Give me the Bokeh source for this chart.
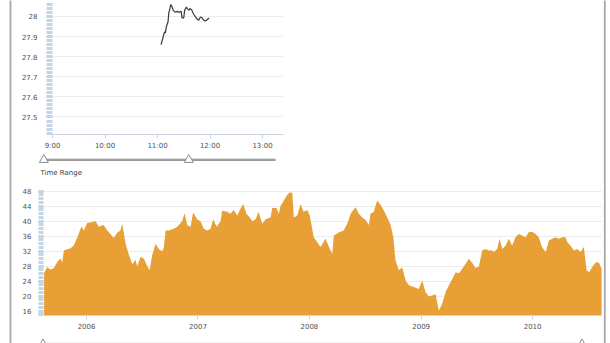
import pandas as pd
from bokeh.plotting import figure
from bokeh.layouts import column, row
from bokeh.models import (Range1d, LinearAxis, FixedTicker, DatetimeTickFormatter,
                          NumeralTickFormatter, Grid, ColumnDataSource)
from bokeh.embed import file_html
from bokeh.resources import INLINE
from bokeh.core.properties import value

# ---------------- data: intraday (top chart) ----------------
intraday_times = ["11:04", "11:06", "11:08", "11:09", "11:10", "11:12", "11:13", "11:14",
                  "11:15", "11:16", "11:18", "11:20", "11:23", "11:25", "11:27", "11:28",
                  "11:30", "11:31", "11:33", "11:34", "11:36", "11:37", "11:39", "11:41",
                  "11:43", "11:45", "11:47", "11:49", "11:51", "11:52", "11:54", "11:56",
                  "11:58", "11:59"]
intraday_prices = [27.860, 27.890, 27.923, 27.918, 27.947, 27.972, 28.021, 28.033,
                   28.059, 28.054, 28.030, 28.021, 28.025, 28.020, 28.026, 27.993,
                   27.993, 28.030, 28.046, 28.039, 28.030, 28.039, 28.033, 28.013,
                   28.000, 27.988, 27.980, 27.997, 27.993, 27.985, 27.977, 27.980,
                   27.988, 27.993]
hour_ticks = [9, 10, 11, 12, 13]
hour_labels = ["9:00", "10:00", "11:00", "12:00", "13:00"]
top_y_ticks = [27.5, 27.6, 27.7, 27.8, 27.9, 28.0]

# ---------------- data: daily history (bottom chart) ----------------
daily_dates = [
    "2005-08-15", "2005-08-25", "2005-09-05", "2005-09-16", "2005-09-27", "2005-10-08",
    "2005-10-13", "2005-10-19", "2005-10-30", "2005-11-10", "2005-11-20", "2005-12-02",
    "2005-12-12", "2005-12-16", "2005-12-23", "2006-01-03", "2006-01-20", "2006-01-31",
    "2006-02-10", "2006-02-26", "2006-03-10", "2006-03-21", "2006-03-31", "2006-04-12",
    "2006-04-22", "2006-04-28", "2006-05-09", "2006-05-20", "2006-05-31", "2006-06-10",
    "2006-06-16", "2006-06-27", "2006-07-08", "2006-07-19", "2006-07-27", "2006-08-04",
    "2006-08-15", "2006-08-26", "2006-09-06", "2006-09-11", "2006-09-17", "2006-09-28",
    "2006-10-14", "2006-10-25", "2006-11-10", "2006-11-18", "2006-11-27", "2006-12-08",
    "2006-12-16", "2006-12-29", "2007-01-09", "2007-01-20", "2007-01-31", "2007-02-11",
    "2007-02-20", "2007-03-03", "2007-03-16", "2007-03-21", "2007-04-07", "2007-04-17",
    "2007-04-28", "2007-05-10", "2007-05-18", "2007-05-29", "2007-06-09", "2007-06-20",
    "2007-06-28", "2007-07-09", "2007-07-18", "2007-07-31", "2007-08-10", "2007-08-27",
    "2007-09-01", "2007-09-15", "2007-09-23", "2007-09-28", "2007-10-09", "2007-10-20",
    "2007-10-29", "2007-11-06", "2007-11-11", "2007-11-22", "2007-12-03", "2007-12-13",
    "2007-12-25", "2008-01-02", "2008-01-08", "2008-01-15", "2008-01-26", "2008-02-06",
    "2008-02-23", "2008-03-05", "2008-03-16", "2008-03-21", "2008-04-06", "2008-04-22",
    "2008-05-04", "2008-05-15", "2008-05-31", "2008-06-11", "2008-06-22", "2008-07-03",
    "2008-07-14", "2008-07-19", "2008-07-30", "2008-08-10", "2008-08-18", "2008-08-31",
    "2008-09-12", "2008-09-23", "2008-10-02", "2008-10-09", "2008-10-20", "2008-10-31",
    "2008-11-11", "2008-11-22", "2008-12-03", "2008-12-13", "2008-12-24", "2009-01-05",
    "2009-01-15", "2009-01-26", "2009-02-06", "2009-02-17", "2009-02-28", "2009-03-11",
    "2009-03-22", "2009-04-02", "2009-04-13", "2009-04-24", "2009-05-05", "2009-05-16",
    "2009-05-26", "2009-06-06", "2009-06-17", "2009-06-28", "2009-07-09", "2009-07-20",
    "2009-07-31", "2009-08-11", "2009-08-22", "2009-08-27", "2009-09-07", "2009-09-15",
    "2009-09-24", "2009-10-05", "2009-10-15", "2009-10-26", "2009-11-06", "2009-11-17",
    "2009-11-28", "2009-12-09", "2009-12-20", "2009-12-31", "2010-01-11", "2010-01-21",
    "2010-02-01", "2010-02-13", "2010-02-23", "2010-03-06", "2010-03-17", "2010-03-28",
    "2010-04-08", "2010-04-19", "2010-04-25", "2010-05-05", "2010-05-16", "2010-05-27",
    "2010-06-07", "2010-06-18", "2010-06-27", "2010-07-05", "2010-07-15", "2010-07-26",
    "2010-08-06", "2010-08-15"]
daily_prices = [
    26.2, 27.7, 27.1, 27.5, 29.1, 30.1,
    29.0, 32.2, 32.5, 32.8, 33.5, 35.7,
    37.9, 38.5, 37.5, 39.5, 39.8, 40.0,
    38.5, 39.0, 37.5, 36.5, 35.5, 37.0,
    37.5, 39.3, 34.0, 31.0, 28.5, 29.7,
    28.0, 30.5, 30.0, 28.0, 27.0, 31.0,
    34.0, 32.5, 32.0, 33.0, 37.5, 37.5,
    38.0, 38.5, 40.0, 42.1, 39.0, 38.5,
    42.4, 40.5, 40.0, 38.0, 37.5, 38.0,
    40.5, 38.5, 40.0, 42.8, 42.5, 42.0,
    43.0, 41.5, 43.0, 44.6, 42.0, 41.0,
    40.0, 40.5, 42.5, 39.3, 40.5, 41.0,
    43.5, 43.5, 42.0, 44.0, 45.5, 47.0,
    47.7, 47.5, 41.0, 41.5, 44.5, 42.5,
    43.0, 41.5, 39.0, 35.7, 34.5, 33.1,
    35.3, 33.1, 31.3, 36.2, 37.0, 37.5,
    39.3, 42.0, 43.7, 42.0, 41.0, 40.3,
    39.0, 42.0, 42.5, 45.5, 44.7, 43.0,
    41.0, 39.0, 35.7, 29.5, 26.9, 27.7,
    24.2, 22.9, 22.6, 22.3, 21.9, 24.2,
    21.1, 19.9, 20.2, 20.6, 16.2, 18.0,
    21.1, 22.9, 24.6, 26.4, 26.1, 27.4,
    28.6, 30.0, 28.9, 27.5, 27.9, 32.2,
    32.6, 32.2, 32.2, 31.8, 32.6, 35.3,
    32.6, 33.5, 35.3, 33.5, 35.7, 36.6,
    36.2, 35.7, 37.1, 37.1, 36.6, 35.7,
    33.1, 31.7, 34.8, 35.3, 35.7, 35.3,
    35.7, 35.7, 34.4, 33.5, 32.2, 32.6,
    31.8, 33.1, 26.9, 26.4, 27.7, 29.0,
    29.0, 27.3]
year_ticks = [2006, 2007, 2008, 2009, 2010]
bottom_y_ticks = [16, 20, 24, 28, 32, 36, 40, 44, 48]

# ---------------- styles ----------------
FONT = "DejaVu Sans"
LABEL_COLOR = "#505050"
BAND = "#c3d5e7"
GRID = "#ececec"
AXIS = "#c8d4e0"
ORANGE = "#e8a036"
BORDER = "#a8a8a8"
FS = "7px"
PAGE_H = 343


def style_label_axis(ax):
    ax.major_label_text_font = FONT
    ax.major_label_text_font_size = FS
    ax.major_label_text_color = LABEL_COLOR


def band_y_axis(ticker, band_len, standoff, fmt=None):
    ax = LinearAxis(ticker=ticker)
    if fmt is not None:
        ax.formatter = fmt
    ax.axis_line_color = None
    ax.major_tick_in = 0
    ax.major_tick_out = band_len
    ax.minor_tick_in = 0
    ax.minor_tick_out = band_len
    ax.major_tick_line_color = BAND
    ax.minor_tick_line_color = BAND
    ax.major_tick_line_width = 3
    ax.minor_tick_line_width = 3
    ax.major_label_standoff = standoff
    style_label_axis(ax)
    return ax


def deco_fig(width, height, x0, border_x=None):
    p = figure(width=width, height=height, x_range=Range1d(x0, x0 + width),
               y_range=Range1d(height, 0), x_axis_type=None, y_axis_type=None,
               output_backend="svg", toolbar_location=None, min_border=0,
               outline_line_color=None, title=None, frame_align=False)
    p.background_fill_color = "white"
    p.border_fill_color = "white"
    if border_x is not None:
        p.quad(left=[border_x - 0.9], right=[border_x + 0.9],
               bottom=[-50], top=[height + 50], fill_color=BORDER, line_color=None)
    return p


def slider(p, y, x_start, x_end, handles):
    p.segment(x0=[x_start], y0=[y], x1=[x_end], y1=[y], line_color="#9a9a9a", line_width=2.2)
    p.segment(x0=[x_start], y0=[y - 1.2], x1=[x_end], y1=[y - 1.2], line_color="#dcdcdc", line_width=0.8)
    p.scatter(x=handles, y=[y] * len(handles), marker="triangle", size=9,
              fill_color="white", line_color="#8c8c8c", line_width=1)


# ---------------- top chart ----------------
hours = [int(t.split(":")[0]) + int(t.split(":")[1]) / 60 for t in intraday_times]
f1 = figure(width=590, height=152, x_range=Range1d(9.0, 13.4), y_range=Range1d(27.413, 28.079),
            x_axis_type=None, y_axis_type=None, output_backend="svg", toolbar_location=None,
            title=None, min_border_left=40, min_border_right=319, min_border_top=0,
            min_border_bottom=17, outline_line_color=None, frame_align=False)
top_minor = [round(27.40 + 0.02 * i, 2) for i in range(35)]
f1_yticker = FixedTicker(ticks=top_y_ticks, minor_ticks=top_minor)
f1.add_layout(band_y_axis(f1_yticker, 6, 9, NumeralTickFormatter(format="0.[0]")), "left")
f1_x = LinearAxis(ticker=FixedTicker(ticks=hour_ticks),
                  major_label_overrides=dict(zip(hour_ticks, hour_labels)))
f1_x.axis_line_color = AXIS
f1_x.major_tick_line_color = AXIS
f1_x.major_tick_in = 0
f1_x.major_tick_out = 4
f1_x.minor_tick_line_color = None
f1_x.major_label_standoff = 3
style_label_axis(f1_x)
f1.add_layout(f1_x, "below")
f1.add_layout(Grid(dimension=1, ticker=f1_yticker, grid_line_color=GRID))
f1.line(x=hours, y=intraday_prices, line_color="#3a3a3a", line_width=1.2)

# ---------------- slider 1 ----------------
s1 = deco_fig(590, 33, 12)
slider(s1, 7.3, 42, 275, [43.3, 188.3])
s1.text(x=[40], y=[20.3], text=["Time Range"], text_font=value(FONT), text_font_size=FS,
        text_baseline="middle", text_align="left", text_color="#444444")

# ---------------- bottom chart ----------------
dates = pd.to_datetime(daily_dates)
src = ColumnDataSource(dict(date=dates, price=daily_prices))
f2 = figure(width=590, height=148,
            x_range=Range1d(pd.Timestamp("2005-08-13"), pd.Timestamp("2010-08-18")),
            y_range=Range1d(14.85, 48.45), x_axis_type=None, y_axis_type=None,
            output_backend="svg", toolbar_location=None, title=None,
            min_border_left=31, min_border_right=0, min_border_top=4, min_border_bottom=18,
            outline_line_color=None, frame_align=False)
f2_yticker = FixedTicker(ticks=bottom_y_ticks, minor_ticks=list(range(15, 49)))
f2.add_layout(band_y_axis(f2_yticker, 5, 7), "left")
year_ms = [pd.Timestamp(f"{y}-01-01").value / 1e6 for y in year_ticks]
f2_x = LinearAxis(ticker=FixedTicker(ticks=year_ms),
                  formatter=DatetimeTickFormatter(years="%Y", months="%Y", days="%Y",
                                                  hours="%Y", hourmin="%Y", minutes="%Y",
                                                  minsec="%Y", seconds="%Y",
                                                  milliseconds="%Y", microseconds="%Y"))
f2_x.axis_line_color = AXIS
f2_x.major_tick_line_color = AXIS
f2_x.major_tick_in = 0
f2_x.major_tick_out = 4
f2_x.minor_tick_line_color = None
f2_x.major_label_standoff = 3
style_label_axis(f2_x)
f2.add_layout(f2_x, "below")
f2.add_layout(Grid(dimension=1, ticker=f2_yticker, grid_line_color=GRID))
f2.varea(x="date", y1=0, y2="price", source=src, fill_color=ORANGE)

# ---------------- slider 2 ----------------
s2 = deco_fig(590, 10, 12)
slider(s2, 8.7, 42, 582, [42.5, 581.5])

for f in (f1, f2):
    f.background_fill_color = "white"
    f.border_fill_color = "white"

layout = row(
    deco_fig(12, PAGE_H, 0, border_x=10),
    column(f1, s1, f2, s2),
    deco_fig(8, PAGE_H, 602, border_x=604.3),
)

open("out.html", "w").write(file_html(layout, INLINE))
